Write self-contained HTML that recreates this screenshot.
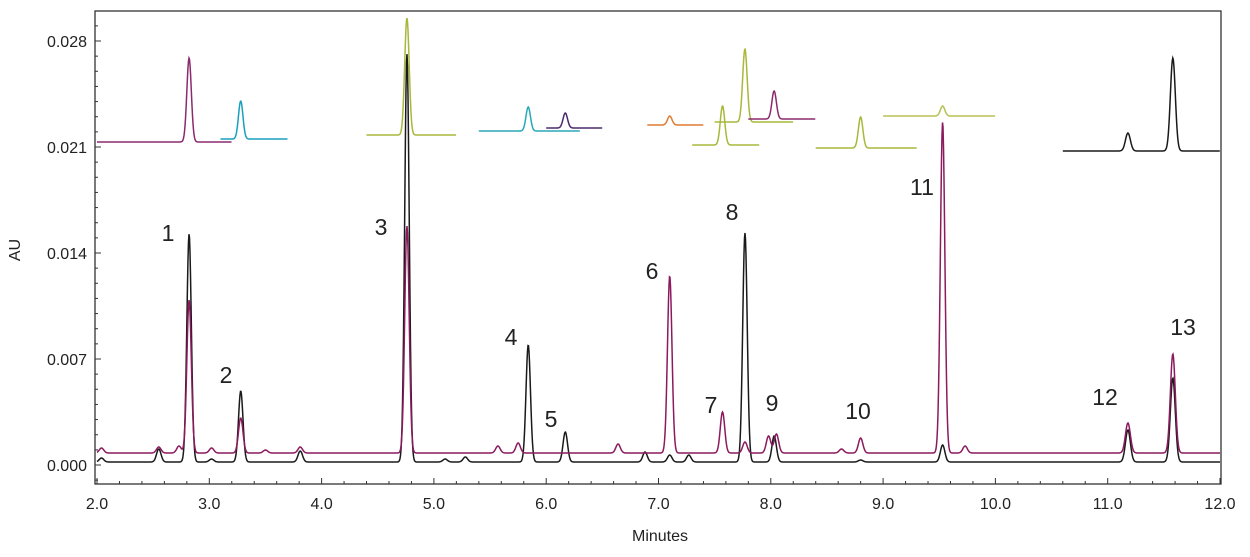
<!DOCTYPE html>
<html><head><meta charset="utf-8"><style>
html,body{margin:0;padding:0;background:#fff;}
svg text{font-family:"Liberation Sans",Arial,sans-serif;fill:#222;}
</style></head><body>
<svg id="s" width="1250" height="552" xmlns="http://www.w3.org/2000/svg">
<rect x="95" y="11" width="1126" height="473" fill="none" stroke="#333" stroke-width="1.3"/>
<g id="ticks" stroke="#333" stroke-width="1"></g>
<g font-size="16" text-anchor="end">
<text x="87" y="47">0.028</text>
<text x="87" y="153">0.021</text>
<text x="87" y="259">0.014</text>
<text x="87" y="365">0.007</text>
<text x="87" y="471">0.000</text>
</g>
<g id="xl" font-size="16" text-anchor="middle"></g>
<text x="660" y="541" font-size="16" text-anchor="middle">Minutes</text>
<text x="0" y="0" font-size="16" text-anchor="middle" transform="translate(20,250) rotate(-90)">AU</text>
<g id="tr" fill="none" stroke-width="1.5"></g>
<g font-size="23" text-anchor="middle">
<text x="168" y="241">1</text><text x="226" y="383">2</text><text x="381" y="235">3</text>
<text x="511" y="345">4</text><text x="551" y="427">5</text><text x="652" y="279">6</text>
<text x="711" y="413">7</text><text x="732" y="220">8</text><text x="772" y="411">9</text>
<text x="858" y="419">10</text><text x="922" y="195">11</text><text x="1105" y="405">12</text>
<text x="1183" y="335">13</text>
</g>
</svg>
<script>
const X=t=>97+(t-2)*112.3;
const NS="http://www.w3.org/2000/svg";
function el(p,n,a){const e=document.createElementNS(NS,n);for(const k in a)e.setAttribute(k,a[k]);p.appendChild(e);return e;}
const tk=document.getElementById('ticks'),xl=document.getElementById('xl');
for(let i=0;i<=50;i++){const t=2+i*0.2,x=X(t),maj=i%5==0;el(tk,'line',{x1:x,x2:x,y1:484,y2:maj?478:481});
 if(maj){const tx=el(xl,'text',{x:x,y:509});tx.textContent=t.toFixed(1);}}
for(let i=-1;i<=30;i++){const y=465-i*106/7;if(y<12||y>484)continue;const maj=i%7==0;el(tk,'line',{x1:95,x2:maj?101:98,y1:y,y2:y});}
const tr=document.getElementById('tr');
function trace(t0,t1,base,peaks,col,sig){let d='';for(let x=X(t0);x<=X(t1);x+=0.5){const t=2+(x-97)/112.3;let y=base;
 for(const p of peaks){const s=(p[2]||sig);y-=(base-p[1])*Math.exp(-((t-p[0])**2)/(2*s*s));}
 d+=(d?'L':'M')+x.toFixed(1)+' '+y.toFixed(1);}el(tr,'path',{d:d,stroke:col});}
const S=0.02;
trace(2.0,12.0,462,[[2.04,458],[2.55,449],[2.82,234],[3.02,459],[3.28,391],[3.81,451],[4.76,54],[5.1,459],[5.28,457],[5.84,345],[6.17,432],[6.88,452],[7.10,455],[7.27,455],[7.77,233],[8.03,436],[8.80,460],[9.53,445],[11.18,430,0.022],[11.58,378,0.022]],'#1a1a1a',S);
trace(2.0,12.0,453,[[2.04,448],[2.55,447],[2.73,446],[2.82,300],[3.02,448],[3.28,418],[3.5,450],[3.81,447],[4.76,226],[5.57,446],[5.75,443],[6.64,444],[7.10,276],[7.57,412],[7.77,442],[7.98,436],[8.05,434],[8.63,449],[8.80,438],[9.53,122],[9.73,446],[11.18,423,0.022],[11.58,354,0.022]],'#8b1a5e',S);
trace(2.0,3.2,142,[[2.82,58]],'#8b2a6e',S);
trace(3.1,3.7,139,[[3.28,101]],'#1a9fc0',S);
trace(4.4,5.2,135,[[4.76,18]],'#a8b83a',S);
trace(5.4,6.3,131,[[5.84,107]],'#2aa8b8',S);
trace(6.0,6.5,128,[[6.17,113]],'#4a2a6a',S);
trace(6.9,7.4,125,[[7.10,116]],'#e07a30',S);
trace(7.3,7.9,145,[[7.57,106]],'#a8b83a',S);
trace(7.5,8.2,122,[[7.77,49]],'#a8b83a',S);
trace(7.8,8.4,119,[[8.03,91]],'#8b2a6e',S);
trace(8.4,9.3,148,[[8.80,117]],'#a8b83a',S);
trace(9.0,10.0,116,[[9.53,106]],'#b8c050',S);
trace(10.6,12.0,151,[[11.18,133,0.022],[11.58,58,0.022]],'#1a1a1a',S);
</script>
</body></html>
